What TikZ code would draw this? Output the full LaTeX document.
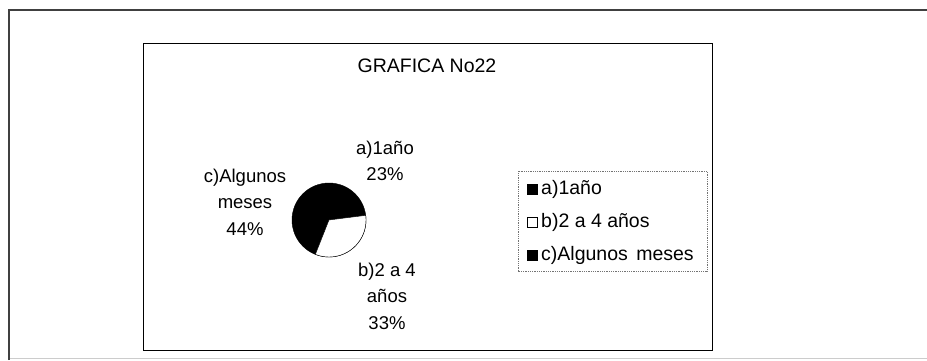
\documentclass[tikz,border=0pt]{standalone}
\usepackage{fontspec}
\setmainfont{Liberation Sans}
\usetikzlibrary{positioning}

\begin{document}
\begin{tikzpicture}[x=1pt, y=1pt,
  lbl/.style={align=center, font=\fontsize{18.5}{26.5}\selectfont},
  keybox/.style={draw=black, minimum size=10pt, inner sep=0pt},
  keytxt/.style={right, inner sep=0pt, font=\fontsize{19.5}{22}\selectfont}]
\useasboundingbox (0,0) rectangle (927,360);
% Outer frame
\draw[black!75, line width=1.1pt] (9,0) -- (9,350) -- (927,350);
\draw[black!20, line width=0.8pt] (10,2) -- (927,2);
% Chart area
\draw[line width=1pt] (143,10) rectangle (712,317);
\node[font=\fontsize{19.5}{22}\selectfont] (title) at (427,294) {GRAFICA No22};

% Pie
\coordinate (o) at (329,140);
\filldraw[fill=black] (o) circle (37);
\filldraw[fill=white, draw=black] (o) -- ++(7.2:37) arc[start angle=7.2, end angle=-111.6, radius=37] -- cycle;
\node[lbl] (la) at (385,199) {a)1año\\23\%};
\node[lbl] (lb) at (387,64) {b)2 a 4\\años\\33\%};
\node[lbl] (lc) at (245,158) {c)Algunos\\meses\\44\%};

% Legend
\draw[black!55, densely dotted, line width=0.8pt] (518,89) rectangle (707,189);
\node[keybox, fill=black] (ka) at (532,171) {};
\node[keybox, fill=white] (kb) at (532,138) {};
\node[keybox, fill=black] (kc) at (532,105) {};
\node[keytxt] (ta) at (541,171) {a)1año};
\node[keytxt] (tb) at (541,138) {b)2 a 4 años};
\node[keytxt] (tc) at (541,105) {c)Algunos\hspace{3pt} meses};
\end{tikzpicture}
\end{document}
